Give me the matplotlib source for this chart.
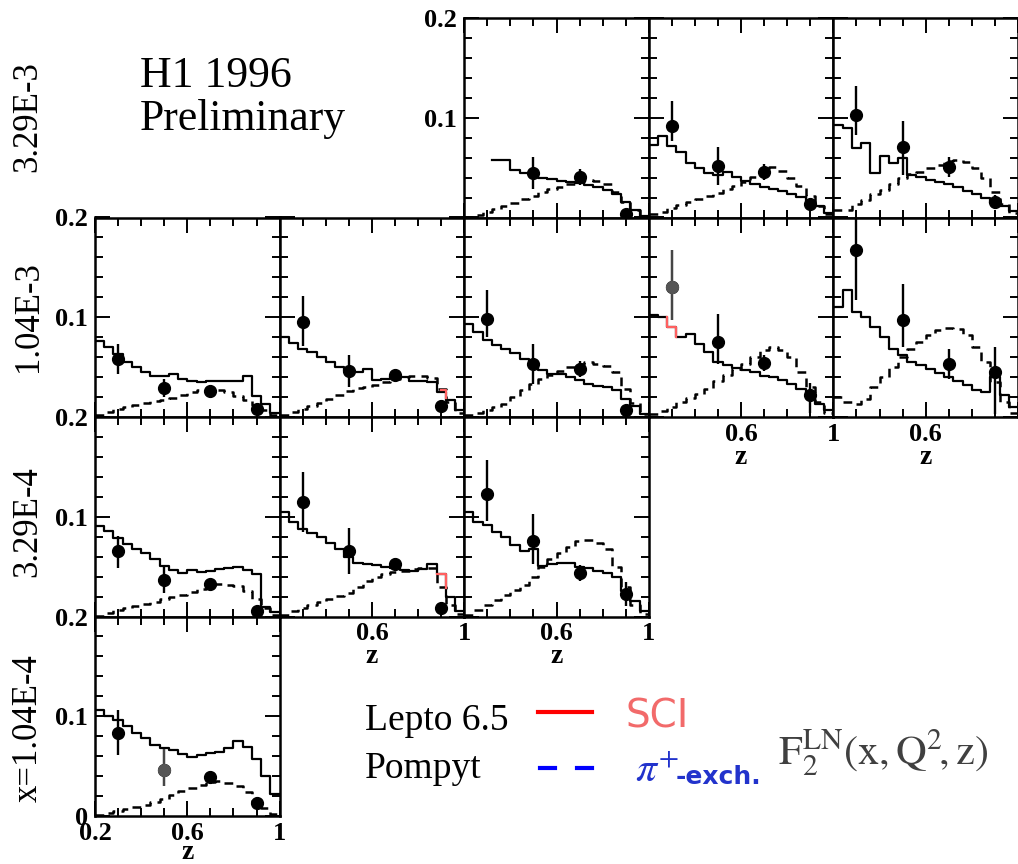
import numpy as np
import matplotlib.pyplot as plt
from matplotlib.lines import Line2D
from matplotlib.ticker import FixedLocator, MultipleLocator

plt.rcParams['font.family'] = ['Liberation Serif', 'DejaVu Serif']
plt.rcParams['mathtext.fontset'] = 'stix'

nan = np.nan
z_edges = np.linspace(0.2, 1.0, 21)
z_pts = [0.3, 0.5, 0.7, 0.9]
row_labels = ['3.29E-3', '1.04E-3', '3.29E-4', 'x=1.04E-4']

# ---- x = 3.29E-3 ----
lep_r0c2 = [nan, nan, nan, 0.058, 0.058, 0.048, 0.045, 0.042, 0.040, 0.039, 0.037, 0.036, 0.035, 0.033, 0.031, 0.028, 0.024, 0.016, 0.008, 0.002]
pom_r0c2 = [0.001, 0.003, 0.006, 0.009, 0.012, 0.015, 0.019, 0.022, 0.026, 0.029, 0.031, 0.034, 0.036, 0.038, 0.037, 0.034, 0.026, 0.016, 0.008, 0.002]
dat_r0c2 = [nan, 0.045, 0.041, 0.004]
eup_r0c2 = [0.0, 0.016, 0.008, 0.003]
edn_r0c2 = [0.0, 0.016, 0.008, 0.003]

lep_r0c3 = [0.073, 0.082, 0.072, 0.066, 0.055, 0.050, 0.045, 0.043, 0.046, 0.041, 0.037, 0.034, 0.031, 0.029, 0.027, 0.024, 0.021, 0.017, 0.012, 0.005]
pom_r0c3 = [0.004, 0.006, 0.010, 0.013, 0.016, 0.019, 0.022, 0.025, 0.029, 0.032, 0.036, 0.041, 0.046, 0.051, 0.047, 0.040, 0.032, 0.022, 0.012, 0.004]
dat_r0c3 = [0.092, 0.052, 0.046, 0.014]
eup_r0c3 = [0.025, 0.019, 0.008, 0.003]
edn_r0c3 = [0.015, 0.019, 0.008, 0.003]

lep_r0c4 = [0.093, 0.090, 0.070, 0.075, 0.045, 0.062, 0.055, 0.060, 0.043, 0.041, 0.038, 0.036, 0.034, 0.031, 0.027, 0.024, 0.020, 0.015, 0.012, 0.007]
pom_r0c4 = [0.008, 0.008, 0.014, 0.018, 0.024, 0.028, 0.034, 0.040, 0.044, 0.046, 0.050, 0.053, 0.057, 0.058, 0.056, 0.050, 0.040, 0.026, 0.014, 0.005]
dat_r0c4 = [0.103, 0.071, 0.051, 0.016]
eup_r0c4 = [0.029, 0.026, 0.010, 0.007]
edn_r0c4 = [0.020, 0.028, 0.010, 0.007]

# ---- x = 1.04E-3 ----
lep_r1c0 = [0.076, 0.070, 0.063, 0.055, 0.050, 0.045, 0.041, 0.041, 0.043, 0.038, 0.036, 0.035, 0.036, 0.036, 0.036, 0.036, 0.041, 0.021, 0.013, 0.004]
pom_r1c0 = [0.002, 0.005, 0.008, 0.010, 0.012, 0.014, 0.016, 0.017, 0.019, 0.022, 0.025, 0.027, 0.028, 0.027, 0.025, 0.021, 0.017, 0.012, 0.007, 0.002]
dat_r1c0 = [0.058, 0.0295, 0.026, 0.0076]
eup_r1c0 = [0.015, 0.009, 0.004, 0.004]
edn_r1c0 = [0.015, 0.009, 0.004, 0.004]

lep_r1c1 = [0.080, 0.074, 0.068, 0.065, 0.060, 0.055, 0.050, 0.046, 0.045, 0.048, 0.037, 0.038, 0.041, 0.040, 0.036, 0.036, 0.035, 0.025, 0.017, 0.007]
pom_r1c1 = [0.002, 0.005, 0.008, 0.011, 0.014, 0.018, 0.022, 0.026, 0.029, 0.030, 0.032, 0.035, 0.038, 0.040, 0.041, 0.041, 0.039, 0.028, 0.015, 0.004]
dat_r1c1 = [0.095, 0.046, 0.042, 0.011]
eup_r1c1 = [0.026, 0.016, 0.005, 0.006]
edn_r1c1 = [0.024, 0.016, 0.005, 0.006]

lep_r1c2 = [0.093, 0.085, 0.077, 0.072, 0.068, 0.064, 0.058, 0.055, 0.047, 0.043, 0.043, 0.040, 0.037, 0.033, 0.031, 0.030, 0.027, 0.018, 0.011, 0.003]
pom_r1c2 = [0.002, 0.004, 0.007, 0.010, 0.013, 0.020, 0.027, 0.033, 0.038, 0.042, 0.046, 0.050, 0.053, 0.055, 0.053, 0.051, 0.045, 0.028, 0.014, 0.003]
dat_r1c2 = [0.098, 0.053, 0.048, 0.007]
eup_r1c2 = [0.029, 0.020, 0.008, 0.004]
edn_r1c2 = [0.018, 0.020, 0.008, 0.004]

lep_r1c3 = [0.102, 0.100, 0.090, 0.080, 0.083, 0.073, 0.065, 0.055, 0.052, 0.049, 0.047, 0.045, 0.041, 0.040, 0.037, 0.033, 0.028, 0.023, 0.013, 0.007]
pom_r1c3 = [0.003, 0.006, 0.010, 0.015, 0.019, 0.023, 0.028, 0.036, 0.042, 0.048, 0.053, 0.060, 0.067, 0.070, 0.067, 0.060, 0.045, 0.030, 0.015, 0.004]
dat_r1c3 = [0.130, 0.075, 0.054, 0.022]
eup_r1c3 = [0.037, 0.028, 0.008, 0.012]
edn_r1c3 = [0.033, 0.022, 0.008, 0.018]

lep_r1c4 = [0.110, 0.127, 0.105, 0.100, 0.090, 0.080, 0.068, 0.062, 0.055, 0.052, 0.048, 0.044, 0.040, 0.036, 0.032, 0.027, 0.025, 0.040, 0.022, 0.010]
pom_r1c4 = [0.020, 0.015, 0.013, 0.018, 0.030, 0.040, 0.050, 0.060, 0.068, 0.075, 0.082, 0.087, 0.089, 0.088, 0.082, 0.070, 0.055, 0.035, 0.015, 0.004]
dat_r1c4 = [0.167, 0.097, 0.053, 0.045]
eup_r1c4 = [0.033, 0.036, 0.015, 0.025]
edn_r1c4 = [0.050, 0.027, 0.015, 0.042]

# ---- x = 3.29E-4 ----
lep_r2c0 = [0.091, 0.086, 0.079, 0.073, 0.068, 0.064, 0.058, 0.051, 0.047, 0.044, 0.047, 0.045, 0.046, 0.048, 0.049, 0.050, 0.047, 0.043, 0.010, 0.005]
pom_r2c0 = [0.001, 0.004, 0.007, 0.009, 0.011, 0.013, 0.015, 0.018, 0.020, 0.022, 0.025, 0.028, 0.030, 0.033, 0.032, 0.031, 0.026, 0.018, 0.009, 0.002]
dat_r2c0 = [0.066, 0.037, 0.033, 0.006]
eup_r2c0 = [0.015, 0.013, 0.004, 0.004]
edn_r2c0 = [0.017, 0.013, 0.004, 0.004]

lep_r2c1 = [0.105, 0.095, 0.088, 0.084, 0.080, 0.074, 0.068, 0.060, 0.054, 0.053, 0.052, 0.050, 0.049, 0.047, 0.046, 0.048, 0.053, 0.043, 0.020, 0.006]
pom_r2c1 = [0.002, 0.006, 0.009, 0.012, 0.015, 0.018, 0.021, 0.024, 0.030, 0.036, 0.040, 0.043, 0.045, 0.046, 0.048, 0.049, 0.049, 0.030, 0.012, 0.003]
dat_r2c1 = [0.115, 0.066, 0.053, 0.009]
eup_r2c1 = [0.030, 0.023, 0.006, 0.004]
edn_r2c1 = [0.030, 0.023, 0.006, 0.004]

lep_r2c2 = [0.105, 0.095, 0.092, 0.085, 0.080, 0.072, 0.066, 0.068, 0.051, 0.053, 0.054, 0.054, 0.050, 0.049, 0.046, 0.044, 0.040, 0.026, 0.016, 0.006]
pom_r2c2 = [0.002, 0.007, 0.012, 0.017, 0.022, 0.027, 0.032, 0.040, 0.050, 0.058, 0.064, 0.070, 0.076, 0.077, 0.074, 0.068, 0.050, 0.030, 0.012, 0.003]
dat_r2c2 = [0.123, 0.076, 0.044, 0.0225]
eup_r2c2 = [0.034, 0.027, 0.008, 0.012]
edn_r2c2 = [0.027, 0.023, 0.008, 0.012]

# ---- x = 1.04E-4 ----
lep_r3c0 = [0.106, 0.100, 0.096, 0.090, 0.083, 0.078, 0.071, 0.068, 0.066, 0.062, 0.059, 0.061, 0.063, 0.064, 0.068, 0.075, 0.069, 0.057, 0.040, 0.022]
pom_r3c0 = [0.001, 0.003, 0.005, 0.007, 0.009, 0.011, 0.014, 0.017, 0.021, 0.025, 0.028, 0.031, 0.034, 0.035, 0.033, 0.030, 0.024, 0.015, 0.008, 0.002]
dat_r3c0 = [0.083, 0.046, 0.039, 0.013]
eup_r3c0 = [0.023, 0.021, 0.006, 0.006]
edn_r3c0 = [0.022, 0.016, 0.006, 0.006]

# red "SCI" pen marks over the Lepto curve
sci_z_r1c1 = [0.90, 0.92, 0.92]
sci_y_r1c1 = [0.027, 0.027, 0.019]
sci_z_r1c3 = [0.28, 0.28, 0.32, 0.32]
sci_y_r1c3 = [0.100, 0.090, 0.090, 0.080]
sci_z_r2c1 = [0.88, 0.92, 0.92]
sci_y_r2c1 = [0.043, 0.043, 0.029]

panels = [
    (0, 2, lep_r0c2, pom_r0c2, dat_r0c2, eup_r0c2, edn_r0c2),
    (0, 3, lep_r0c3, pom_r0c3, dat_r0c3, eup_r0c3, edn_r0c3),
    (0, 4, lep_r0c4, pom_r0c4, dat_r0c4, eup_r0c4, edn_r0c4),
    (1, 0, lep_r1c0, pom_r1c0, dat_r1c0, eup_r1c0, edn_r1c0),
    (1, 1, lep_r1c1, pom_r1c1, dat_r1c1, eup_r1c1, edn_r1c1),
    (1, 2, lep_r1c2, pom_r1c2, dat_r1c2, eup_r1c2, edn_r1c2),
    (1, 3, lep_r1c3, pom_r1c3, dat_r1c3, eup_r1c3, edn_r1c3),
    (1, 4, lep_r1c4, pom_r1c4, dat_r1c4, eup_r1c4, edn_r1c4),
    (2, 0, lep_r2c0, pom_r2c0, dat_r2c0, eup_r2c0, edn_r2c0),
    (2, 1, lep_r2c1, pom_r2c1, dat_r2c1, eup_r2c1, edn_r2c1),
    (2, 2, lep_r2c2, pom_r2c2, dat_r2c2, eup_r2c2, edn_r2c2),
    (3, 0, lep_r3c0, pom_r3c0, dat_r3c0, eup_r3c0, edn_r3c0),
]
sci_marks = {(1, 1): (sci_z_r1c1, sci_y_r1c1),
             (1, 3): (sci_z_r1c3, sci_y_r1c3),
             (2, 1): (sci_z_r2c1, sci_y_r2c1)}
gray_points = {(1, 3): 0, (3, 0): 1}
left_panels = [(0, 2), (1, 0), (2, 0), (3, 0)]
z_labelled = {(1, 3): ['', '0.6', '1'], (1, 4): ['', '0.6', ''],
              (2, 1): ['', '0.6', '1'], (2, 2): ['', '0.6', '1'],
              (3, 0): ['0.2', '0.6', '1']}

W, H = 1018, 864
col_x = [95, 279.6, 464.2, 648.8, 833.4]
row_y = [18, 217.5, 417, 616.5]
pw, ph = 184.6, 199.5

fig = plt.figure(figsize=(W / 100, H / 100), dpi=100)

for r, c, lep, pom, dat, eup, edn in panels:
    ax = fig.add_axes([col_x[c] / W, 1 - (row_y[r] + ph) / H, pw / W, ph / H])
    ax.step(z_edges, lep + [lep[-1]], where='post', color='k', lw=1.6)
    ax.step(z_edges, pom + [pom[-1]], where='post', color='k', lw=1.8,
            ls=(0, (3.5, 2.5)))
    if (r, c) in sci_marks:
        sz, sy = sci_marks[(r, c)]
        ax.plot(sz, sy, color='#ff6060', lw=1.6)
    ax.errorbar(z_pts, dat, yerr=[edn, eup], fmt='o', color='k', ms=8.5,
                elinewidth=1.7, capsize=0, zorder=5)
    if (r, c) in gray_points:
        i = gray_points[(r, c)]
        ax.errorbar([z_pts[i]], [dat[i]], yerr=[[edn[i]], [eup[i]]], fmt='o',
                    color='#555555', ms=8.5, elinewidth=1.2, capsize=0, zorder=6)

    ax.set_xlim(0.2, 1.0)
    ax.set_ylim(0, 0.2)
    ax.xaxis.set_major_locator(FixedLocator([0.2, 0.6, 1.0]))
    ax.xaxis.set_minor_locator(MultipleLocator(0.1))
    ax.yaxis.set_major_locator(FixedLocator([0.0, 0.1, 0.2]))
    ax.yaxis.set_minor_locator(MultipleLocator(0.02))
    ax.tick_params(which='both', direction='in', top=True, right=True,
                   width=1.4)
    ax.tick_params(which='major', length=11)
    ax.tick_params(which='minor', length=6)
    ax.tick_params(axis='x', pad=4)
    ax.tick_params(axis='y', pad=5)
    for s in ax.spines.values():
        s.set_linewidth(1.8)

    if (r, c) in left_panels:
        ylabs = ['0' if r == 3 else '', '0.1', '0.2']
    else:
        ylabs = ['', '', '']
    ax.set_yticklabels(ylabs, fontsize=19, fontweight='bold')

    if (r, c) in z_labelled:
        ax.set_xticklabels(z_labelled[(r, c)], fontsize=19, fontweight='bold')
        ax.set_xlabel('z', fontsize=20, fontweight='bold', va='baseline')
        ax.xaxis.set_label_coords(0.5, -0.215 if r == 3 else -0.235)
    else:
        ax.set_xticklabels(['', '', ''])

# row labels (x bins)
row_centres = [117, 317, 522, 728]
for lab, yc in zip(row_labels, row_centres):
    fig.text(28 / W, 1 - yc / H, lab, rotation=90, fontsize=25,
             ha='center', va='center')

fig.text(140 / W, 1 - 87 / H, 'H1 1996', fontsize=31.5, va='baseline')
fig.text(140 / W, 1 - 130 / H, 'Preliminary', fontsize=31.5, va='baseline')

# legend block
fig.text(365 / W, 1 - 730 / H, 'Lepto 6.5', fontsize=27, va='baseline')
fig.text(365 / W, 1 - 778 / H, 'Pompyt', fontsize=27, va='baseline')
fig.add_artist(Line2D([538 / W, 592 / W], [1 - 712 / H] * 2, color='red', lw=3))
fig.add_artist(Line2D([540 / W, 555 / W], [1 - 768 / H] * 2, color='blue', lw=3))
fig.add_artist(Line2D([577 / W, 592 / W], [1 - 768 / H] * 2, color='blue', lw=3))
fig.text(626 / W, 1 - 727 / H, 'SCI', fontsize=28, color='#f26a6a',
         family='DejaVu Sans', va='baseline')
fig.text(635 / W, 1 - 782 / H, r'$\pi^{+}$', fontsize=30, color='#2233cc',
         va='baseline')
fig.text(676 / W, 1 - 784 / H, '-exch.', fontsize=18, color='#2233cc',
         family='DejaVu Sans', fontweight='bold', va='baseline')
fig.text(778 / W, 1 - 765 / H, r'$\mathrm{F}_2^{\mathrm{LN}}\mathrm{(x,Q^2\!,z)}$',
         fontsize=30.5, color='#404040', va='baseline')

fig.savefig('out.png', dpi=100)
